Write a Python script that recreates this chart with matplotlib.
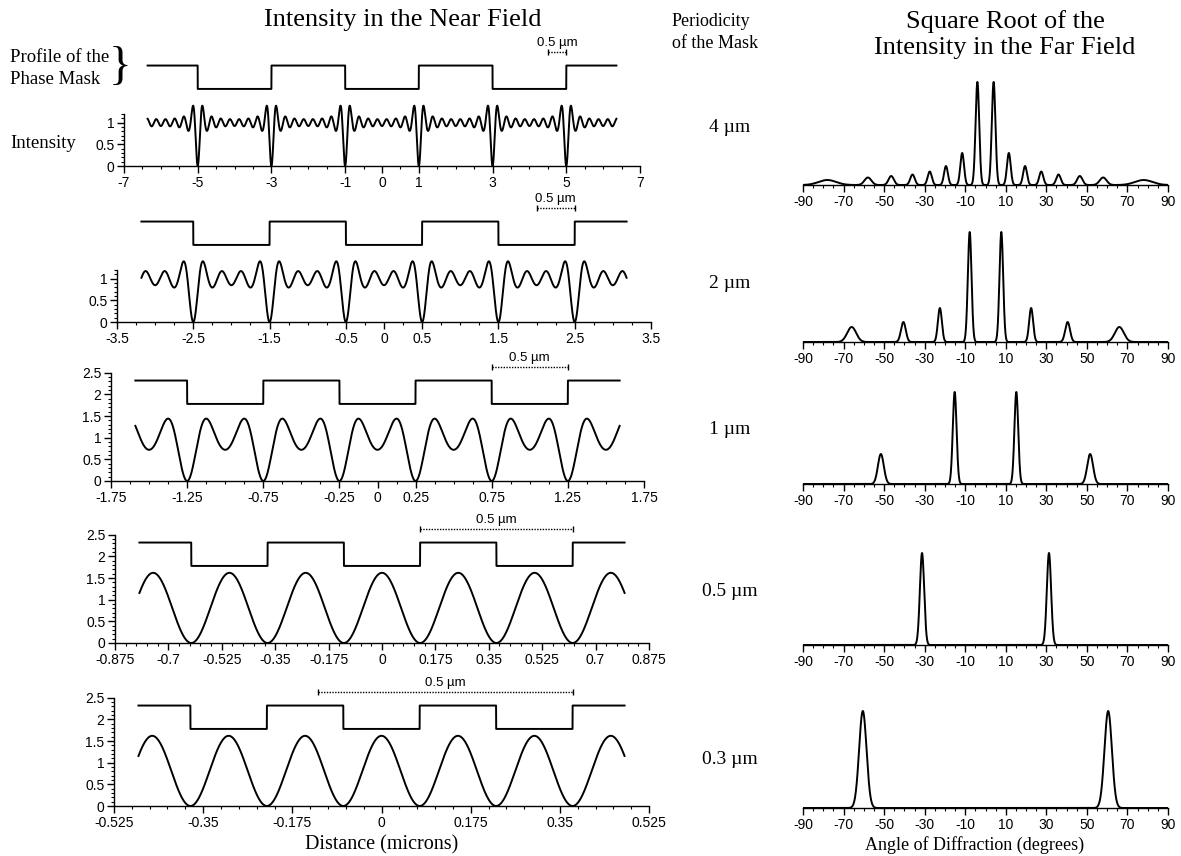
import numpy as np
import matplotlib
matplotlib.use('Agg')
import matplotlib.pyplot as plt
from matplotlib.ticker import MultipleLocator, FixedLocator

W, H = 1181, 856
SERIF = 'Liberation Serif'
SANS = 'Liberation Sans'

# ---- data ----
periods = [4, 2, 1, 0.5, 0.3]                      # mask period, microns
period_labels = ['4 µm', '2 µm', '1 µm', '0.5 µm', '0.3 µm']
max_order = [15, 7, 3, 1, 1]                        # highest propagating order
mask_high = 2.32
mask_low = 1.78
curve_span = 1.59                                   # half-width of curves, in periods

near_ticks = [[-7, -5, -3, -1, 0, 1, 3, 5, 7],
              [-3.5, -2.5, -1.5, -0.5, 0, 0.5, 1.5, 2.5, 3.5],
              [-1.75, -1.25, -0.75, -0.25, 0, 0.25, 0.75, 1.25, 1.75],
              [-0.875, -0.7, -0.525, -0.35, -0.175, 0, 0.175, 0.35, 0.525, 0.7, 0.875],
              [-0.525, -0.35, -0.175, 0, 0.175, 0.35, 0.525]]
near_minor = [0.5, 0.25, 0.125, 0.035, 0.035]

# far field: peak angles (deg) and heights (sqrt intensity, a.u.)
ff_angles = [[-78, -58, -46.5, -36, -27.5, -19.5, -11.5, -4, 4, 11.5, 19.5, 27.5, 36, 46.5, 58, 78],
             [-66, -40.5, -22.5, -7.8, 7.8, 22.5, 40.5, 66],
             [-51.6, -15.2, 15.2, 51.6],
             [-31.3, 31.3],
             [-60.5, 60.5]]
ff_heights = [[0.05, 0.075, 0.09, 0.105, 0.135, 0.19, 0.32, 1.03, 1.03, 0.32, 0.19, 0.135, 0.105, 0.09, 0.075, 0.05],
              [0.15, 0.2, 0.34, 1.1, 1.1, 0.34, 0.2, 0.15],
              [0.3, 0.92, 0.92, 0.3],
              [0.92, 0.92],
              [0.97, 0.97]]
ff_width = 0.9
ff_ticks = [-90, -70, -50, -30, -10, 10, 30, 50, 70, 90]

# ---- layout (pixels) ----
left_x = [(124, 640), (117, 651), (111, 644), (115, 649), (114, 649)]
left_zero = [166, 322, 481, 643, 806]
ppu = 43.3
right_x = (803, 1168)
right_zero = [185, 342, 484, 645, 808]
right_ppu = 100

plt.rcParams['font.family'] = SANS
plt.rcParams['axes.unicode_minus'] = False
plt.rcParams['axes.linewidth'] = 1.0
fig = plt.figure(figsize=(W / 100, H / 100), dpi=100)
fig.patch.set_facecolor('white')


def ft(x, y, s, **kw):
    return fig.text(x / W, 1 - y / H, s, **kw)


for r in range(5):
    P = periods[r]
    x0, x1 = left_x[r]
    ytop = 2.75
    ax = fig.add_axes([x0 / W, 1 - left_zero[r] / H, (x1 - x0) / W, ytop * ppu / H])
    lim = near_ticks[r][-1]
    ax.set_xlim(-lim, lim)
    ax.set_ylim(0, ytop)

    x = np.linspace(-curve_span * P, curve_span * P, 4000)
    amp = np.zeros_like(x)
    for n in range(1, max_order[r] + 1, 2):
        amp += (4 / np.pi) * (-1) ** ((n - 1) // 2) * np.cos(2 * np.pi * n * x / P) / n
    ax.plot(x, amp ** 2, color='black', lw=1.4)
    mask = np.where(np.cos(2 * np.pi * x / P) > 0, mask_low, mask_high)
    ax.plot(x, mask, color='black', lw=1.4)

    # 0.5 micron scale bar
    bar_end = 1.25 * P
    ax.plot([bar_end - 0.5, bar_end], [2.64, 2.64], color='black', lw=1.0, ls=(0, (1, 1)),
            clip_on=False)
    ax.plot([bar_end - 0.5, bar_end], [2.64, 2.64], color='black', lw=0, marker='|', ms=5,
            clip_on=False)
    ax.text(bar_end - 0.25, 2.70, '0.5 µm', ha='center', va='bottom', fontsize=9.5)

    for s in ['top', 'right']:
        ax.spines[s].set_visible(False)
    if r < 2:
        ytop_spine = 1.2
        ax.set_yticks([0, 0.5, 1])
        ax.set_yticklabels(['0', '0.5', '1'])
    else:
        ytop_spine = 2.5
        ax.set_yticks([0, 0.5, 1, 1.5, 2, 2.5])
        ax.set_yticklabels(['0', '0.5', '1', '1.5', '2', '2.5'])
    ax.spines['left'].set_bounds(0, ytop_spine)
    ax.yaxis.set_minor_locator(FixedLocator(np.arange(0, ytop_spine + 0.01, 0.1)))
    ax.set_xticks(near_ticks[r])
    ax.set_xticklabels([('%g' % t) for t in near_ticks[r]])
    ax.xaxis.set_minor_locator(MultipleLocator(near_minor[r]))
    ax.tick_params(axis='both', which='major', length=5, width=1, labelsize=10, pad=2)
    ax.tick_params(axis='both', which='minor', length=2.5, width=0.8)
    ax.patch.set_alpha(0)

    # far field
    ax2 = fig.add_axes([right_x[0] / W, 1 - right_zero[r] / H,
                        (right_x[1] - right_x[0]) / W, 1.15 * right_ppu / H])
    th = np.linspace(-90, 90, 4000)
    f = np.zeros_like(th)
    for a, h in zip(ff_angles[r], ff_heights[r]):
        s = ff_width / np.cos(np.radians(a))
        f += h * np.exp(-0.5 * ((th - a) / s) ** 2)
    ax2.plot(th, f, color='black', lw=1.4)
    ax2.set_xlim(-90, 90)
    ax2.set_ylim(0, 1.15)
    for s in ['top', 'right', 'left']:
        ax2.spines[s].set_visible(False)
    ax2.set_yticks([])
    ax2.set_xticks(ff_ticks)
    ax2.set_xticklabels([str(t) for t in ff_ticks])
    ax2.xaxis.set_minor_locator(MultipleLocator(5))
    ax2.tick_params(axis='x', which='major', length=5, width=1, labelsize=10, pad=2)
    ax2.tick_params(axis='x', which='minor', length=2.5, width=0.8)
    ax2.patch.set_alpha(0)

    ft(730, [128, 284, 430, 591, 760][r], period_labels[r], family=SERIF, fontsize=14,
       ha='center', va='center')

ft(403, 20, 'Intensity in the Near Field', family=SERIF, fontsize=19, ha='center', va='center')
ft(1005, 22, 'Square Root of the', family=SERIF, fontsize=19, ha='center', va='center')
ft(1005, 48, 'Intensity in the Far Field', family=SERIF, fontsize=19, ha='center', va='center')
ft(672, 22, 'Periodicity', family=SERIF, fontsize=13, ha='left', va='center')
ft(672, 43, 'of the Mask', family=SERIF, fontsize=13, ha='left', va='center')
ft(10, 58, 'Profile of the', family=SERIF, fontsize=13.5, ha='left', va='center')
ft(10, 79, 'Phase Mask', family=SERIF, fontsize=13.5, ha='left', va='center')
ft(120, 68, '}', family=SERIF, fontsize=34, ha='center', va='center')
ft(10, 143, 'Intensity', family=SERIF, fontsize=13.5, ha='left', va='center')
ft(382, 845, 'Distance (microns)', family=SERIF, fontsize=14.5, ha='center', va='center')
ft(975, 845, 'Angle of Diffraction (degrees)', family=SERIF, fontsize=13, ha='center',
   va='center')

fig.savefig('out.png', dpi=100)
